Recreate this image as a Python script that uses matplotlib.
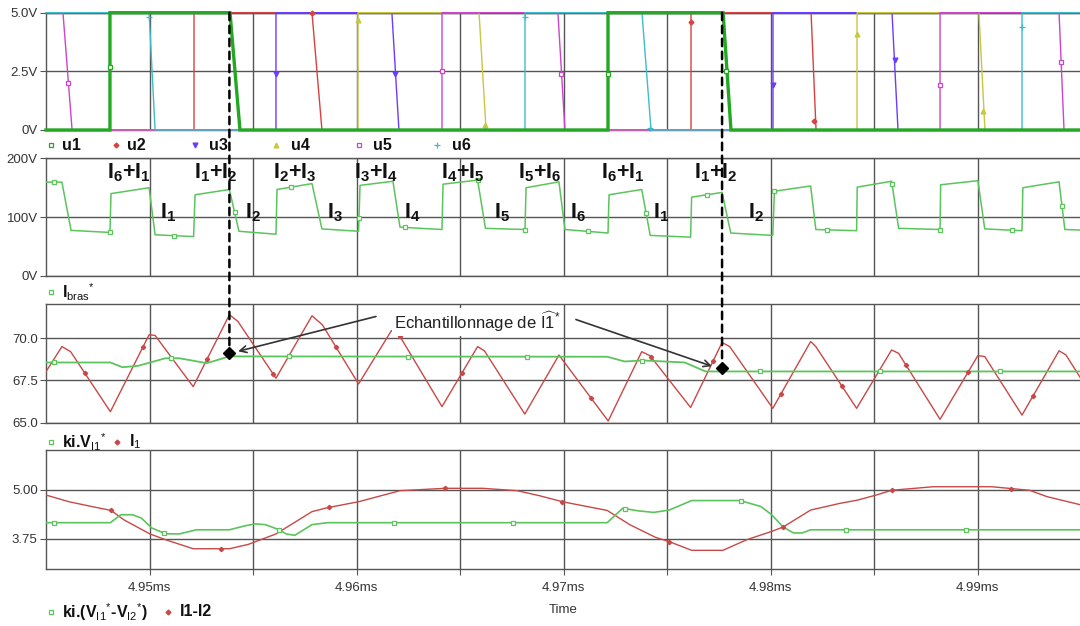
import numpy as np
import matplotlib
matplotlib.use("Agg")
import matplotlib.pyplot as plt
from matplotlib.patches import ConnectionPatch
from matplotlib.ticker import FixedLocator, FuncFormatter

plt.rcParams['font.family'] = ['Liberation Sans', 'DejaVu Sans']
plt.rcParams['mathtext.fontset'] = 'custom'
plt.rcParams['mathtext.rm'] = 'Liberation Sans'
plt.rcParams['mathtext.bf'] = 'Liberation Sans:bold'
plt.rcParams['mathtext.it'] = 'Liberation Sans:italic'
plt.rcParams['mathtext.sf'] = 'Liberation Sans'
plt.rcParams['mathtext.default'] = 'rm'

# ---------------- data (time in microseconds) ----------------
T_START, T_END = 4945.0, 4995.0
grid_times = [4950, 4955, 4960, 4965, 4970, 4975, 4980, 4985, 4990]
label_times = [4950, 4960, 4970, 4980, 4990]

# panel 1 : gate signals (V)
u1_t = [4945.0, 4948.09, 4948.09, 4953.89, 4954.37, 4972.15, 4972.15, 4977.71, 4978.09, 4995.0]
u1_v = [0, 0, 5, 5, 0, 0, 5, 5, 0, 0]
u2_t = [4945.0, 4952.15, 4952.15, 4957.85, 4958.33, 4976.16, 4976.16, 4981.96, 4982.20, 4995.0]
u2_v = [0, 0, 5, 5, 0, 0, 5, 5, 0, 0]
u3_t = [4945.0, 4956.11, 4956.11, 4961.71, 4962.05, 4980.12, 4980.12, 4985.87, 4986.16, 4995.0]
u3_v = [0, 0, 5, 5, 0, 0, 5, 5, 0, 0]
u4_t = [4945.0, 4960.07, 4960.07, 4965.92, 4966.26, 4984.18, 4984.18, 4990.07, 4990.36, 4995.0]
u4_v = [0, 0, 5, 5, 0, 0, 5, 5, 0, 0]
u5_t = [4945.0, 4945.82, 4946.26, 4964.13, 4964.13, 4969.73, 4970.07, 4988.19, 4988.19, 4993.94, 4994.18, 4995.0]
u5_v = [5, 5, 0, 0, 5, 5, 0, 0, 5, 5, 0, 0]
u6_t = [4945.0, 4949.98, 4950.27, 4968.14, 4968.14, 4973.79, 4974.23, 4992.15, 4992.15, 4995.0]
u6_v = [5, 5, 0, 0, 5, 5, 0, 0, 5, 5]

u1_mk = [4948.09, 4972.15, 4977.85]
u2_mk = [4957.85, 4976.16, 4982.10]
u3_mk = [4956.11, 4961.88, 4980.12, 4986.00]
u4_mk = [4960.07, 4966.22, 4984.18, 4990.25]
u5_mk = [4946.08, 4964.13, 4969.90, 4988.19, 4994.05]
u6_mk = [4949.98, 4968.14, 4974.20, 4992.15]
u1_mk_v = [2.7, 2.4, 2.5]
u2_mk_v = [5.0, 4.6, 0.4]
u3_mk_v = [2.4, 2.4, 1.9, 3.0]
u4_mk_v = [4.7, 0.2, 4.1, 0.8]
u5_mk_v = [2.0, 2.5, 2.4, 1.9, 2.9]
u6_mk_v = [4.8, 4.8, 0.1, 4.4]

# panel 2 : I_bras* (V)
ibras_t = [4945.0, 4945.77, 4946.21, 4948.09, 4948.14, 4949.98, 4950.27, 4952.13, 4952.20,
           4953.86, 4954.32, 4956.11, 4956.16, 4957.85, 4958.33, 4960.10, 4960.17, 4961.76,
           4962.10, 4964.13, 4964.18, 4965.85, 4966.23, 4968.14, 4968.19, 4969.78, 4970.07,
           4972.15, 4972.20, 4973.78, 4974.19, 4976.14, 4976.19, 4977.66, 4978.08, 4980.11,
           4980.19, 4981.94, 4982.19, 4984.16, 4984.19, 4985.85, 4986.19, 4988.19, 4988.22,
           4990.02, 4990.35, 4992.15, 4992.19, 4993.94, 4994.22, 4995.0]
ibras_v = [159.5, 159.5, 77.5, 74, 140, 150, 70, 67, 138,
           147, 76, 71, 147, 157, 80, 76, 154, 161,
           83, 79, 156, 163, 81, 79, 150, 160, 79,
           73, 138, 147, 69, 66, 134, 142, 73, 69,
           144, 153, 79, 77, 151, 161, 81, 79, 155,
           162, 80, 77, 150, 160, 79, 78]
ibras_mk = [4945.41, 4948.09, 4951.18, 4954.11, 4956.84, 4960.12, 4962.34, 4965.85, 4968.14,
            4971.18, 4973.99, 4976.93, 4980.19, 4982.73, 4985.87, 4988.19, 4991.67, 4994.08]

# panel 3 : I1 and ki.V_I1*
i1_t = [4945.0, 4945.77, 4946.19, 4948.11, 4949.98, 4950.27, 4952.11, 4953.86, 4954.27,
        4956.11, 4957.85, 4958.35, 4960.10, 4961.69, 4962.10, 4964.13, 4965.85, 4966.18,
        4968.13, 4969.78, 4972.16, 4973.78, 4974.19, 4976.14, 4977.66, 4978.03, 4980.11,
        4981.94, 4982.19, 4984.16, 4985.85, 4986.19, 4988.19, 4990.02, 4990.35, 4992.15,
        4993.94, 4994.27, 4995.0]
i1_v = [68.02, 69.5, 69.2, 65.65, 70.2, 70.16, 67.13, 71.38, 70.99,
        67.63, 71.32, 70.79, 67.29, 70.45, 70.1, 65.95, 69.5, 69.25,
        65.51, 69.0, 65.1, 69.2, 68.95, 65.9, 69.74, 69.5, 65.85,
        69.8, 69.5, 65.85, 69.3, 69.1, 65.2, 68.97, 68.91, 65.45,
        69.25, 69.01, 67.6]
i1_mk = [4946.86, 4949.69, 4952.78, 4955.97, 4959.01, 4962.10, 4965.10, 4971.33, 4974.23,
         4977.22, 4980.51, 4983.45, 4986.55, 4989.54, 4992.68]

kv1_t = [4945.0, 4948.11, 4948.69, 4949.44, 4950.77, 4951.44, 4952.77, 4953.86, 4972.11,
         4972.95, 4973.86, 4975.86, 4976.86, 4995.0]
kv1_v = [68.56, 68.56, 68.28, 68.36, 68.81, 68.81, 68.52, 68.92, 68.90,
         68.62, 68.68, 68.56, 68.03, 68.03]
kv1_mk = [4945.41, 4951.06, 4956.74, 4962.48, 4968.22, 4973.81, 4979.49, 4985.27, 4991.07]

sample_t = [4953.86, 4977.66]
sample_v = [69.15, 68.24]

# panel 4 : I1-I2 and ki.(V_I1*-V_I2*)
d_t = [4945.0, 4946.11, 4947.11, 4948.14, 4948.77, 4950.02, 4950.77, 4952.11, 4953.86,
       4954.77, 4956.11, 4957.85, 4958.60, 4960.10, 4962.10, 4964.27, 4966.10, 4967.76,
       4968.86, 4969.95, 4972.11, 4973.20, 4974.44, 4975.11, 4976.19, 4977.70, 4978.86,
       4980.06, 4980.61, 4981.94, 4983.36, 4984.19, 4985.11, 4985.85, 4987.86, 4990.69,
       4992.52, 4993.35, 4995.0]
d_v = [4.86, 4.69, 4.58, 4.47, 4.23, 3.875, 3.73, 3.5, 3.5,
       3.61, 3.875, 4.44, 4.54, 4.69, 4.97, 5.03, 5.03, 4.97,
       4.84, 4.69, 4.47, 4.11, 3.79, 3.68, 3.46, 3.46, 3.73,
       3.94, 4.05, 4.48, 4.65, 4.73, 4.86, 4.98, 5.07, 5.07,
       4.98, 4.82, 4.61]
d_mk = [4948.14, 4953.44, 4958.69, 4964.27, 4969.95, 4975.11, 4980.61, 4985.85, 4991.60]

g_t = [4945.0, 4948.11, 4948.61, 4949.19, 4949.61, 4950.11, 4950.77, 4951.44, 4952.27,
       4953.86, 4954.61, 4955.11, 4955.60, 4956.27, 4956.60, 4957.02, 4957.85, 4958.60,
       4972.11, 4972.86, 4973.61, 4974.36, 4975.11, 4976.19, 4978.53, 4979.53, 4980.06,
       4980.61, 4981.11, 4981.53, 4981.94, 4995.0]
g_v = [4.16, 4.16, 4.36, 4.36, 4.275, 4.025, 3.88, 3.875, 3.98,
       3.98, 4.08, 4.13, 4.11, 3.98, 3.875, 3.84, 4.11, 4.16,
       4.16, 4.525, 4.46, 4.42, 4.48, 4.72, 4.72, 4.57, 4.36,
       4.05, 3.9, 3.9, 3.98, 3.98]
g_mk = [4945.41, 4950.69, 4956.27, 4961.82, 4967.55, 4972.95, 4978.57, 4983.66, 4989.44]

# text labels of panel 2
sum_labels = [r'$\mathbf{I_6{+}I_1}$', r'$\mathbf{I_1{+}I_2}$', r'$\mathbf{I_2{+}I_3}$',
              r'$\mathbf{I_3{+}I_4}$', r'$\mathbf{I_4{+}I_5}$', r'$\mathbf{I_5{+}I_6}$',
              r'$\mathbf{I_6{+}I_1}$', r'$\mathbf{I_1{+}I_2}$']
sum_label_t = [4949.01, 4953.19, 4957.03, 4960.94, 4965.13, 4968.86, 4972.87, 4977.37]
one_labels = [r'$\mathbf{I_1}$', r'$\mathbf{I_2}$', r'$\mathbf{I_3}$', r'$\mathbf{I_4}$',
              r'$\mathbf{I_5}$', r'$\mathbf{I_6}$', r'$\mathbf{I_1}$', r'$\mathbf{I_2}$']
one_label_t = [4950.89, 4955.00, 4958.94, 4962.68, 4967.01, 4970.70, 4974.71, 4979.28]

# ---------------- styling ----------------
W, H = 1080, 626
GRID = '#555555'
TXT = '#333333'
C_U1 = '#22a822'
C_U2 = '#d94040'
C_U3 = '#6a3cff'
C_U4 = '#c9c640'
C_U5 = '#cc44cc'
C_U6 = '#3cbccc'
C_GREEN = '#5cc45c'
C_RED = '#c84848'

fig = plt.figure(figsize=(W / 100, H / 100), dpi=100)
fig.patch.set_facecolor('white')


def px_axes(top, bottom, left=46, right=1081):
    return fig.add_axes([left / W, 1 - bottom / H, (right - left) / W, (bottom - top) / H])


def style_axes(ax, yticks, ylabels, ylim, bottom_labels=False):
    ax.set_xlim(T_START, T_END)
    ax.set_ylim(*ylim)
    ax.set_axisbelow(True)
    ax.xaxis.set_major_locator(FixedLocator(grid_times))
    ax.set_yticks(yticks)
    ax.set_yticklabels(ylabels)
    ax.grid(True, color=GRID, lw=1.0)
    for s in ['left', 'top', 'bottom']:
        ax.spines[s].set_color(GRID)
        ax.spines[s].set_linewidth(1.0)
    ax.spines['right'].set_visible(False)
    ax.tick_params(axis='y', length=4, width=0.8, color=GRID, pad=2, labelsize=9.5,
                   labelcolor=TXT)
    if bottom_labels:
        ax.xaxis.set_major_formatter(FuncFormatter(
            lambda v, p: (f"{v / 1000:.2f}ms" if int(round(v)) in label_times else "")))
        ax.tick_params(axis='x', length=4, width=0.8, color=GRID, pad=6, labelsize=9.5,
                       labelcolor=TXT)
    else:
        ax.tick_params(axis='x', length=0, labelbottom=False)


ax1 = px_axes(12.7, 130)
ax2 = px_axes(158.3, 276)
ax3 = px_axes(304.3, 422.7)
ax4 = px_axes(450, 568.5)

style_axes(ax1, [0, 2.5, 5], ['0V', '2.5V', '5.0V'], (0, 5))
style_axes(ax2, [0, 100, 200], ['0V', '100V', '200V'], (0, 200))
style_axes(ax3, [65, 67.5, 70], ['65.0', '67.5', '70.0'], (65, 72))
style_axes(ax4, [3.75, 5.0], ['3.75', '5.00'], (3, 6), bottom_labels=True)

# panel 1
sigs = [(u2_t, u2_v, u2_mk, u2_mk_v, C_U2, 'D', 2.5),
        (u3_t, u3_v, u3_mk, u3_mk_v, C_U3, 'v', 3.5),
        (u4_t, u4_v, u4_mk, u4_mk_v, C_U4, '^', 3.5),
        (u5_t, u5_v, u5_mk, u5_mk_v, C_U5, 's', 3.5),
        (u6_t, u6_v, u6_mk, u6_mk_v, C_U6, '+', 4.5)]
for t, v, mk, mkv, c, m, ms in sigs:
    ax1.plot(t, v, color=c, lw=1.0, clip_on=False, zorder=3)
    ax1.plot(mk, mkv, ls='none', marker=m, ms=ms, color=c,
             mfc=('white' if m == 's' else c), mew=0.9, clip_on=False, zorder=4)
ax1.plot(u1_t, u1_v, color=C_U1, lw=2.4, clip_on=False, zorder=5, solid_joinstyle='miter')
ax1.plot(u1_mk, u1_mk_v, ls='none', marker='s', ms=3.5, color=C_U1, mfc='white',
         mew=0.9, clip_on=False, zorder=6)

# panel 2
ax2.plot(ibras_t, ibras_v, color=C_GREEN, lw=1.1, zorder=3)
ax2.plot(ibras_mk, np.interp(ibras_mk, ibras_t, ibras_v), ls='none', marker='s', ms=3.5,
         color=C_GREEN, mfc='white', mew=0.9, zorder=4)
for s, t in zip(sum_labels, sum_label_t):
    ax2.text(t, 175, s, ha='center', va='center', fontsize=15.5, color='#111111', zorder=6)
for s, t in zip(one_labels, one_label_t):
    ax2.text(t, 108, s, ha='center', va='center', fontsize=15.5, color='#111111', zorder=6)

# panel 3
ax3.plot(i1_t, i1_v, color=C_RED, lw=1.0, zorder=3)
ax3.plot(i1_mk, np.interp(i1_mk, i1_t, i1_v), ls='none', marker='D', ms=2.2,
         color=C_RED, zorder=4)
ax3.plot(kv1_t, kv1_v, color=C_GREEN, lw=1.3, zorder=3)
ax3.plot(kv1_mk, np.interp(kv1_mk, kv1_t, kv1_v), ls='none', marker='s', ms=3.5,
         color=C_GREEN, mfc='white', mew=0.9, zorder=4)
ax3.plot(sample_t, sample_v, ls='none', marker='D', ms=6.5, color='black', zorder=8,
         clip_on=False)

ax3.text(4965.82, 70.98, r'Echantillonnage de $\widehat{\mathrm{I1}}^{*}$', ha='center',
         va='center', fontsize=12, color='#222222', zorder=9,
         bbox=dict(facecolor='white', edgecolor='none', pad=1.5))
arrow_kw = dict(arrowstyle='->', color='#333333', lw=1.2, shrinkA=0, shrinkB=0,
                mutation_scale=12)
ax3.annotate('', xy=(4954.28, 69.22), xytext=(4960.94, 71.28), arrowprops=arrow_kw,
             zorder=9)
ax3.annotate('', xy=(4977.17, 68.34), xytext=(4970.60, 71.10), arrowprops=arrow_kw,
             zorder=9)

# panel 4
ax4.plot(d_t, d_v, color=C_RED, lw=1.0, zorder=3)
ax4.plot(d_mk, np.interp(d_mk, d_t, d_v), ls='none', marker='D', ms=2.2,
         color=C_RED, zorder=4)
ax4.plot(g_t, g_v, color=C_GREEN, lw=1.2, zorder=3)
ax4.plot(g_mk, np.interp(g_mk, g_t, g_v), ls='none', marker='s', ms=3.5,
         color=C_GREEN, mfc='white', mew=0.9, zorder=4)

# dashed sampling lines
for t, v in zip(sample_t, sample_v):
    con = ConnectionPatch(xyA=(t, 5.0), coordsA=ax1.transData, xyB=(t, v),
                          coordsB=ax3.transData, color='black', lw=1.8,
                          linestyle=(0, (3.0, 2.2)), zorder=20)
    fig.add_artist(con)

# overlay for legends / labels (pixel coordinates)
ov = fig.add_axes([0, 0, 1, 1], zorder=10)
ov.set_xlim(0, W)
ov.set_ylim(H, 0)
ov.axis('off')
ov.patch.set_visible(False)


def leg(x_m, x_t, y, marker, color, text, ms=3.5, mfc=None, size=11.5):
    ov.plot([x_m], [y], ls='none', marker=marker, ms=ms, color=color,
            mfc=(mfc if mfc else color), mew=0.9)
    ov.text(x_t, y, text, ha='left', va='center', fontsize=size, fontweight='bold',
            color='#111111')


leg(51, 62, 145, 's', C_U1, 'u1', mfc='white')
leg(115.5, 127, 145, 'D', C_U2, 'u2', ms=2.5)
leg(195, 209, 145, 'v', C_U3, 'u3')
leg(276, 291, 145, '^', C_U4, 'u4')
leg(358.6, 373, 145, 's', C_U5, 'u5', mfc='white')
leg(437, 452, 145, '+', C_U6, 'u6', ms=4.5)

leg(51, 62, 292, 's', C_GREEN, r'I$_{bras}{}^{*}$', mfc='white')

leg(51, 62, 442, 's', C_GREEN, r'ki.V$_{I1}{}^{*}$', mfc='white')
leg(117, 129, 442, 'D', C_RED, r'I$_1$', ms=2.5)

leg(51, 62, 612, 's', C_GREEN, r'ki.(V$_{I1}{}^{*}$-V$_{I2}{}^{*}$)', mfc='white')
leg(168, 180, 612, 'D', C_RED, 'I1-I2', ms=2.5)

ov.text(563, 610, 'Time', ha='center', va='center', fontsize=9.5, color=TXT)

fig.savefig('out.png', dpi=100, facecolor='white')
